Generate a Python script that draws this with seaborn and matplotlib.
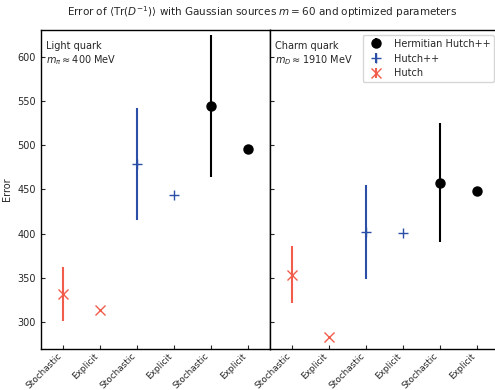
import matplotlib
matplotlib.use("Agg")
import matplotlib.pyplot as plt
import seaborn as sns
import numpy as np

sns.set_style("ticks", {"xtick.direction": "in", "ytick.direction": "in",
                        "axes.edgecolor": "black"})
plt.rcParams['font.family'] = ['DejaVu Sans']

tick_labels = ["Stochastic", "Explicit", "Stochastic", "Explicit", "Stochastic", "Explicit"]
methods = ["Hermitian Hutch++", "Hutch++", "Hutch"]

# light quark: (stochastic value, stochastic error, explicit value)
light_hutch = [331.6, 30.5, 314.5]
light_hutchpp = [479.0, 63.0, 443.8]
light_herm = [544.0, 80.0, 496.0]
# charm quark
charm_hutch = [354.0, 32.0, 283.0]
charm_hutchpp = [402.3, 53.0, 401.0]
charm_herm = [457.5, 67.0, 448.5]

colors = {"Hermitian Hutch++": "black", "Hutch++": "#2b4ea6", "Hutch": "#f25c4a"}
markers = {"Hermitian Hutch++": "o", "Hutch++": "+", "Hutch": "x"}
msizes = {"Hermitian Hutch++": 6.5, "Hutch++": 7, "Hutch": 7}
slots = {"Hutch": 0, "Hutch++": 2, "Hermitian Hutch++": 4}

W, H = 495, 390
fig = plt.figure(figsize=(W / 100, H / 100), dpi=100)
axL = fig.add_axes([41 / W, 41 / H, 229 / W, 319 / H])
axR = fig.add_axes([270 / W, 41 / H, 229 / W, 319 / H], sharey=axL)

panels = [
    (axL, {"Hutch": light_hutch, "Hutch++": light_hutchpp, "Hermitian Hutch++": light_herm},
     "Light quark\n$m_\\pi \\approx 400$ MeV"),
    (axR, {"Hutch": charm_hutch, "Hutch++": charm_hutchpp, "Hermitian Hutch++": charm_herm},
     "Charm quark\n$m_D \\approx 1910$ MeV"),
]

handles = {}
for ax, data, label in panels:
    for m in ["Hutch", "Hutch++", "Hermitian Hutch++"]:
        val_s, err_s, val_e = data[m]
        x0 = slots[m]
        h = ax.errorbar([x0, x0 + 1], [val_s, val_e], yerr=[[err_s, 0], [err_s, 0]],
                        fmt=markers[m], color=colors[m], ms=msizes[m],
                        elinewidth=1.5, capsize=0, label=m, markeredgewidth=1.0)
        handles[m] = h
    ax.set_xticks(range(6))
    ax.set_xticklabels(tick_labels, rotation=45, ha="right", rotation_mode="default")
    ax.set_xlim(-0.6, 5.6)
    ax.text(0.02, 0.965, label, transform=ax.transAxes, va="top", ha="left", fontsize=7)
    ax.tick_params(labelsize=7, length=3, width=0.8)
    ax.tick_params(axis="x", labelsize=6.4, pad=2)
    for s in ax.spines.values():
        s.set_linewidth(1.0)

axL.set_ylim(270, 630)
axL.set_yticks([300, 350, 400, 450, 500, 550, 600])
axL.set_ylabel("Error", fontsize=7)
plt.setp(axR.get_yticklabels(), visible=False)

axR.legend([handles[m] for m in methods], methods, loc="upper right", fontsize=7,
           frameon=True, fancybox=True, framealpha=0.8, edgecolor="#cccccc")

fig.text(262 / W, 1 - 12 / H,
         "Error of $\\langle\\mathrm{Tr}(D^{-1})\\rangle$ with Gaussian sources $m=60$ and optimized parameters",
         ha="center", va="center", fontsize=7.5)

fig.savefig("out.png", dpi=100)
